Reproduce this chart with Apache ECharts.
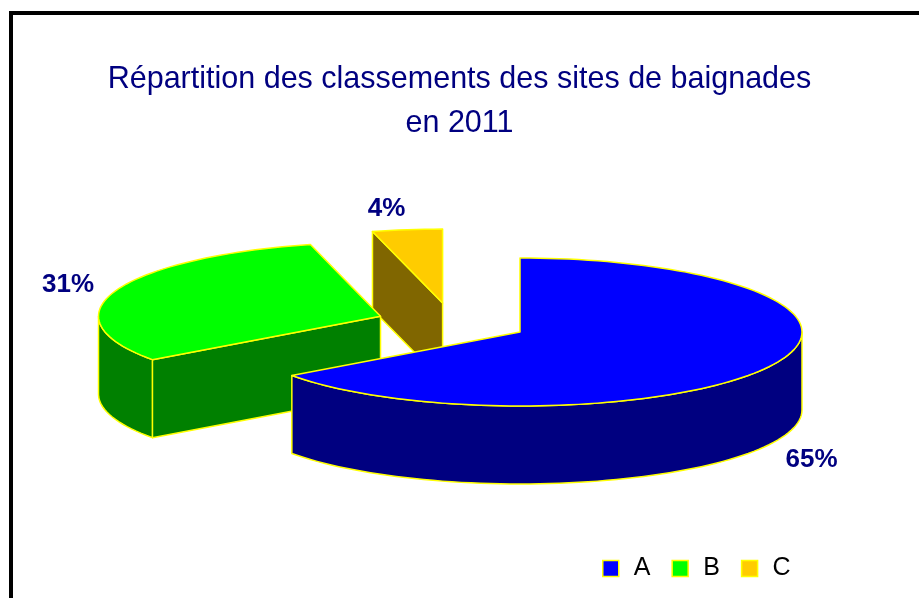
<!DOCTYPE html>
<html>
<head>
<meta charset="utf-8">
<script src="https://cdn.jsdelivr.net/npm/echarts@6/dist/echarts.min.js"></script>
<style>
  html, body { margin: 0; padding: 0; background: #fff; }
  #main { width: 919px; height: 598px; }
</style>
</head>
<body>
<div id="main"></div>
<script>
// données du graphique
const categories = ["A", "B", "C"];
const values = [65, 31, 4];

// couleurs (dessus / flancs)
const topColors = ["#0000FF", "#00FF00", "#FFCC00"];
const sideColors = ["#000080", "#008000", "#806600"];

const total = values.reduce((a, b) => a + b, 0);
// angle de départ de chaque part, sens horaire depuis midi
const starts = [];
let acc = 0;
values.forEach((v) => {
  starts.push((acc / total) * 360);
  acc += v;
});

// ellipse du camembert 3D
const pie = { cx: 0.492, cy: 0.54, rx: 282, ry: 74, h: 78, explode: 0.27 };

function rad(d) {
  return (d * Math.PI) / 180;
}

function renderItem(params, api) {
  const i = params.seriesIndex;
  const v = api.value(0);
  const a0 = starts[i];
  const a1 = a0 + (v / total) * 360;
  const mid = rad((a0 + a1) / 2);
  const cx = api.getWidth() * pie.cx;
  const cy = api.getHeight() * pie.cy;
  const ox = cx + pie.explode * pie.rx * Math.sin(mid);
  const oy = cy - pie.explode * pie.ry * Math.cos(mid);

  const pt = (deg, dy) => [
    ox + pie.rx * Math.sin(rad(deg)),
    oy - pie.ry * Math.cos(rad(deg)) + dy,
  ];
  const arc = (from, to, dy) => {
    const pts = [];
    const n = Math.max(2, Math.ceil(Math.abs(to - from) / 2));
    for (let k = 0; k <= n; k++) pts.push(pt(from + ((to - from) * k) / n, dy));
    return pts;
  };

  const line = { stroke: "#FFFF00", lineWidth: 1.5, lineJoin: "round" };
  const children = [];

  // flancs radiaux visibles
  const s0 = ((a0 % 360) + 360) % 360;
  if (s0 > 180 && s0 < 360) {
    children.push({
      type: "polygon",
      z2: 0,
      shape: { points: [[ox, oy], pt(a0, 0), pt(a0, pie.h), [ox, oy + pie.h]] },
      style: Object.assign({ fill: sideColors[i] }, line),
    });
  }
  const s1 = ((a1 % 360) + 360) % 360;
  if (s1 > 0 && s1 < 180) {
    children.push({
      type: "polygon",
      z2: 0,
      shape: { points: [[ox, oy], pt(a1, 0), pt(a1, pie.h), [ox, oy + pie.h]] },
      style: Object.assign({ fill: sideColors[i] }, line),
    });
  }

  // paroi extérieure (partie avant : 90° à 270°)
  const w0 = Math.max(a0, 90);
  const w1 = Math.min(a1, 270);
  if (w1 > w0) {
    const pts = arc(w0, w1, 0).concat(arc(w1, w0, pie.h));
    children.push({
      type: "polygon",
      z2: 1,
      shape: { points: pts },
      style: Object.assign({ fill: sideColors[i] }, line),
    });
  }

  // dessus
  children.push({
    type: "polygon",
    z2: 2,
    shape: { points: [[ox, oy]].concat(arc(a0, a1, 0)) },
    style: Object.assign({ fill: topColors[i] }, line),
  });

  // étiquette en pourcentage
  const s = Math.sin(mid);
  const c = -Math.cos(mid);
  const pad = 8;
  let ly = oy + (pie.ry + pad) * c;
  let va = "middle";
  if (c > 0.4) {
    ly += pie.h;
    va = "top";
  } else if (c < -0.5) {
    va = "bottom";
  } else {
    ly -= 4;
  }
  children.push({
    type: "text",
    z2: 3,
    x: ox + (pie.rx + 16) * s + (s < -0.5 ? -6 : 0),
    y: ly,
    style: {
      text: Math.round((v / total) * 100) + "%",
      fill: "#000080",
      font: 'bold 26px "Liberation Sans", Arial, sans-serif',
      align: s >= 0 ? "left" : "right",
      verticalAlign: va,
    },
  });

  return { type: "group", children: children };
}

// ordre d'affichage : de l'arrière vers l'avant
const depth = values.map((v, i) => -Math.cos(rad(starts[i] + (v / total) * 180)));
const order = depth.map((d, i) => i).sort((a, b) => depth[a] - depth[b]);

const series = categories.map((name, i) => ({
  type: "custom",
  name: name,
  coordinateSystem: "none",
  data: [[values[i]]],
  renderItem: renderItem,
  itemStyle: { color: topColors[i] },
  z: 2 + order.indexOf(i),
  silent: true,
}));

var myChart = echarts.init(document.getElementById("main"));
var option = {
  animation: false,
  backgroundColor: "#fff",
  title: {
    text: "Répartition des classements des sites de baignades\nen 2011",
    left: "center",
    top: 58,
    padding: [0, 0, 0, 20],
    textStyle: {
      color: "#000080",
      fontFamily: '"Liberation Sans", Arial, sans-serif',
      fontWeight: "normal",
      fontSize: 30.5,
      lineHeight: 44,
      align: "center",
    },
  },
  legend: {
    data: categories,
    left: 602,
    top: 556,
    padding: 0,
    icon: "rect",
    itemWidth: 16,
    itemHeight: 16,
    itemGap: 21,
    itemStyle: { borderColor: "#FFFF00", borderWidth: 1.5 },
    textStyle: {
      color: "#000",
      fontFamily: '"Liberation Sans", Arial, sans-serif',
      fontSize: 25,
      padding: [0, 0, 0, 10],
    },
    selectedMode: false,
  },
  graphic: [
    {
      type: "rect",
      shape: { x: 11, y: 13, width: 1000, height: 800 },
      style: { fill: null, stroke: "#000", lineWidth: 4 },
      silent: true,
    },
  ],
  series: series,
};
myChart.setOption(option);
</script>
</body>
</html>
